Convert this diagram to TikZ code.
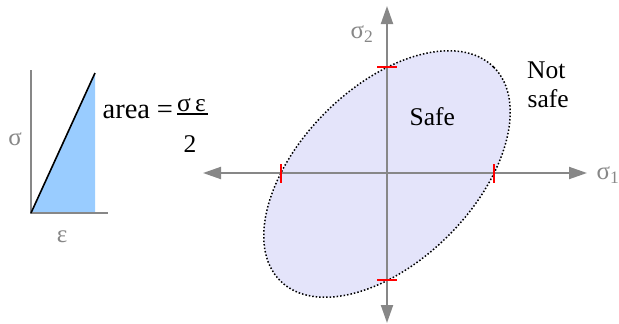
\documentclass[tikz,border=0pt]{standalone}
\usepackage{fontspec}
\setmainfont{Liberation Serif}
\newfontfamily\timesfont{Liberation Serif}
\usetikzlibrary{arrows.meta}
\definecolor{axisgray}{HTML}{878787}
\definecolor{safefill}{HTML}{E4E4FA}
\definecolor{areablue}{HTML}{99CCFF}
\begin{document}
\begin{tikzpicture}[x=1pt,y=-1pt,
  axisline/.style={draw=axisgray, line width=2pt},
  bigaxis/.style={axisline, {Triangle[length=18pt,width=12pt]}-{Triangle[length=18pt,width=12pt]}},
  tick/.style={draw=red, line width=1.6pt},
  graylabel/.style={text=axisgray, font=\timesfont\fontsize{25}{29}\selectfont, inner sep=0pt},
  blacklabel/.style={text=black, font=\timesfont\fontsize{25.5}{29}\selectfont, inner sep=0pt},
  bigblack/.style={blacklabel, font=\timesfont\fontsize{28.5}{31}\selectfont}]
\useasboundingbox (0,0) rectangle (619,324);
% left small diagram
\coordinate (o) at (31,213);
\coordinate (top) at (95,73);
\coordinate (foot) at (95,213);
\coordinate (vtop) at (31,70);
\coordinate (hend) at (108,213);
\fill[areablue] (o) -- (top) -- (foot) -- cycle;
\draw[axisline] (vtop) -- (o) -- (hend);
\draw[black, line width=1.6pt] (o) -- (top);
\node[graylabel] (sig) at (15,139) {σ};
\node[graylabel] (eps) at (62,237) {ε};
% area = sigma eps / 2
\node[bigblack, anchor=base west] (area) at (102.5,118) {area};
\node[bigblack, anchor=base] (eq) at (165,118) {=};
\node[blacklabel, anchor=base] (num) at (191.5,111) {σ\,ε};
\node[blacklabel, anchor=base] (den) at (190,152) {2};
\coordinate (barl) at (177,114);
\coordinate (barr) at (208,114);
\draw[black, line width=1.1pt] (barl) -- (barr);
% ellipse
\coordinate (c) at (387,174);
\draw[black, line width=1.5pt, dotted, fill=safefill, rotate around={45:(c)}] (c) ellipse [x radius=151, y radius=87];
% axes
\coordinate (xl) at (203,173);
\coordinate (xr) at (587,173);
\coordinate (yt) at (387,6);
\coordinate (yb) at (387,323);
\draw[bigaxis] (xl) -- (xr);
\draw[bigaxis] (yb) -- (yt);
% red ticks
\draw[tick] (377,67) -- (397,67);
\draw[tick] (377,280) -- (397,280);
\draw[tick] (281,164) -- (281,183);
\draw[tick] (494,164) -- (494,183);
% labels
\node[graylabel] (s2) at (362,34) {σ\textsubscript{2}};
\node[graylabel] (s1) at (608,175) {σ\textsubscript{1}};
\node[blacklabel, anchor=base west] (safe) at (409.5,125) {Safe};
\node[blacklabel, anchor=base west] (not) at (527,78) {Not};
\node[blacklabel, anchor=base west] (safe2) at (527.5,107) {safe};
\end{tikzpicture}
\end{document}
